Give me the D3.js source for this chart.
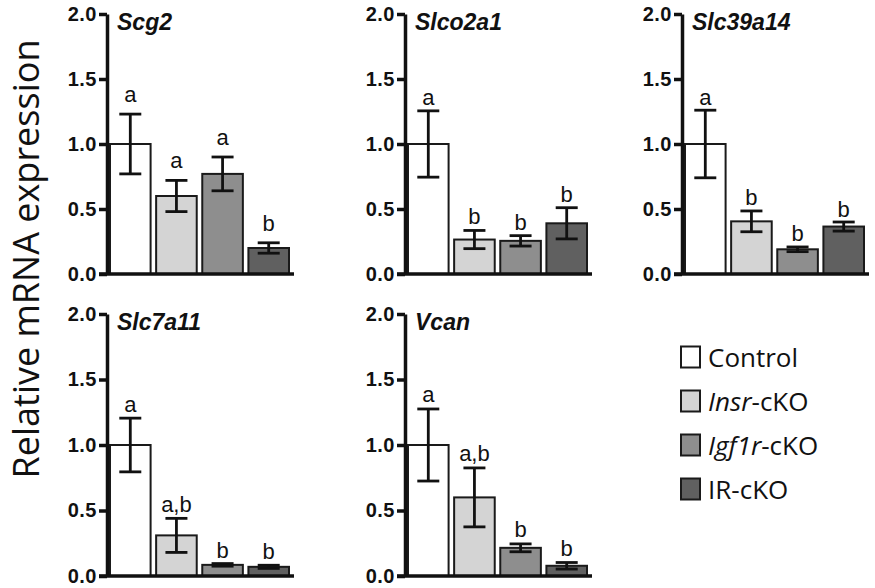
<!DOCTYPE html>
<html>
<head>
<meta charset="utf-8">
<script src="https://cdn.jsdelivr.net/npm/d3@7"></script>
<style>
  html, body { margin: 0; padding: 0; background: #fff; }
  svg { display: block; }
</style>
</head>
<body>
<script>
// ---- data ----
const genes = ["Scg2", "Slco2a1", "Slc39a14", "Slc7a11", "Vcan"];
const groups = ["Control", "Insr-cKO", "Igf1r-cKO", "IR-cKO"];
const scg2Mean = [1.0, 0.60, 0.77, 0.20];
const scg2Sem = [0.23, 0.12, 0.13, 0.04];
const scg2Letters = ["a", "a", "a", "b"];
const slco2a1Mean = [1.0, 0.265, 0.255, 0.39];
const slco2a1Sem = [0.255, 0.07, 0.04, 0.12];
const slco2a1Letters = ["a", "b", "b", "b"];
const slc39a14Mean = [1.0, 0.405, 0.19, 0.365];
const slc39a14Sem = [0.26, 0.08, 0.018, 0.035];
const slc39a14Letters = ["a", "b", "b", "b"];
const slc7a11Mean = [1.0, 0.31, 0.085, 0.07];
const slc7a11Sem = [0.205, 0.13, 0.01, 0.012];
const slc7a11Letters = ["a", "a,b", "b", "b"];
const vcanMean = [1.0, 0.60, 0.215, 0.078];
const vcanSem = [0.275, 0.225, 0.03, 0.025];
const vcanLetters = ["a", "a,b", "b", "b"];
const yTicks = [0, 0.5, 1.0, 1.5, 2.0];
const yTitle = "Relative mRNA expression";

const panelData = [
  { gene: genes[0], mean: scg2Mean, sem: scg2Sem, letters: scg2Letters },
  { gene: genes[1], mean: slco2a1Mean, sem: slco2a1Sem, letters: slco2a1Letters },
  { gene: genes[2], mean: slc39a14Mean, sem: slc39a14Sem, letters: slc39a14Letters },
  { gene: genes[3], mean: slc7a11Mean, sem: slc7a11Sem, letters: slc7a11Letters },
  { gene: genes[4], mean: vcanMean, sem: vcanSem, letters: vcanLetters }
];

// ---- layout / style ----
const W = 875, H = 588;
const axisXs = [107, 405, 682, 107, 405];
const rows = [[274, 14], [576, 314]];
const panelRow = [0, 0, 0, 1, 1];
const letterGap = [12, 6, 5.5, 6, 7];
const fills = ["#ffffff", "#d4d4d4", "#8e8e8e", "#606060"];
const ink = "#111";

const svg = d3.select("body").append("svg").attr("width", W).attr("height", H);

panelData.forEach((p, i) => {
  const ax = axisXs[i];
  const [y0, y1] = rows[panelRow[i]];
  const y = d3.scaleLinear().domain([0, 2]).range([y0, y1]);
  const x = d3.scaleBand().domain(groups).range([ax, ax + 185])
    .paddingInner(0.12).paddingOuter(0.065);
  const g = svg.append("g");

  // bars
  g.selectAll("rect.bar").data(groups).join("rect")
    .attr("class", "bar")
    .attr("x", d => x(d))
    .attr("width", x.bandwidth())
    .attr("y", (d, j) => y(p.mean[j]))
    .attr("height", (d, j) => y(0) - y(p.mean[j]))
    .attr("fill", (d, j) => fills[j])
    .attr("stroke", "#1a1a1a")
    .attr("stroke-width", 2);

  // error bars
  const cap = 11;
  groups.forEach((d, j) => {
    const cx = x(d) + x.bandwidth() / 2;
    const hi = y(p.mean[j] + p.sem[j]);
    const lo = y(p.mean[j] - p.sem[j]);
    const eg = g.append("g").attr("stroke", ink).attr("stroke-width", 2.8).attr("fill", "none");
    eg.append("line").attr("x1", cx).attr("x2", cx).attr("y1", hi).attr("y2", lo);
    eg.append("line").attr("x1", cx - cap).attr("x2", cx + cap).attr("y1", hi).attr("y2", hi);
    eg.append("line").attr("x1", cx - cap).attr("x2", cx + cap).attr("y1", lo).attr("y2", lo);
    g.append("text")
      .attr("x", cx)
      .attr("y", hi - letterGap[i])
      .attr("text-anchor", "middle")
      .attr("font-family", "'Liberation Sans', Arial, sans-serif")
      .attr("font-size", 22)
      .attr("fill", ink)
      .text(p.letters[j]);
  });

  // y axis
  const yAxis = d3.axisLeft(y).tickValues(yTicks).tickFormat(d3.format(".1f"))
    .tickSize(8).tickSizeOuter(0).tickPadding(2);
  const ag = g.append("g").attr("transform", `translate(${ax},0)`).call(yAxis);
  ag.select(".domain").attr("stroke", ink).attr("stroke-width", 3.5);
  ag.selectAll(".tick line").attr("stroke", ink).attr("stroke-width", 3.5);
  ag.selectAll(".tick text")
    .attr("font-family", "'Liberation Sans', Arial, sans-serif")
    .attr("font-weight", "bold")
    .attr("font-size", 20)
    .attr("letter-spacing", 0.5)
    .attr("fill", ink);

  // x axis line
  g.append("line")
    .attr("x1", ax - 8).attr("x2", ax + 187)
    .attr("y1", y(0)).attr("y2", y(0))
    .attr("stroke", ink).attr("stroke-width", 3.5);

  // title
  g.append("text")
    .attr("x", ax + 10)
    .attr("y", y(2) + 16)
    .attr("font-family", "'Liberation Sans', Arial, sans-serif")
    .attr("font-weight", "bold")
    .attr("font-style", "italic")
    .attr("font-size", 23)
    .attr("fill", ink)
    .text(p.gene);
});

// y title
svg.append("text")
  .attr("transform", "translate(39,259) rotate(-90)")
  .attr("text-anchor", "middle")
  .attr("font-family", "'Open Sans', sans-serif")
  .attr("font-size", 36)
  .attr("fill", ink)
  .text(yTitle);

// legend
const legendParts = [
  [["Control", false]],
  [["Insr", true], ["-cKO", false]],
  [["Igf1r", true], ["-cKO", false]],
  [["IR-cKO", false]]
];
const legY = d3.scalePoint().domain(groups).range([357, 489]);
const lg = svg.append("g");
groups.forEach((gname, j) => {
  const cy = legY(gname);
  lg.append("rect")
    .attr("x", 681).attr("y", cy - 10.5)
    .attr("width", 19).attr("height", 21)
    .attr("fill", fills[j])
    .attr("stroke", "#1a1a1a").attr("stroke-width", 2);
  const t = lg.append("text")
    .attr("x", 708).attr("y", cy + 10)
    .attr("font-family", "'Open Sans', sans-serif")
    .attr("font-size", 26)
    .attr("fill", ink);
  legendParts[j].forEach(([s, it]) => {
    t.append("tspan").attr("font-style", it ? "italic" : "normal").text(s);
  });
});
</script>
</body>
</html>
